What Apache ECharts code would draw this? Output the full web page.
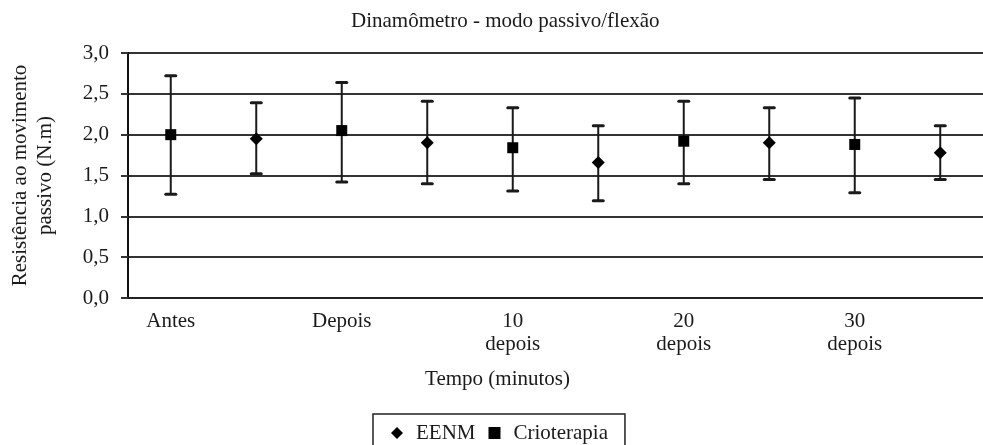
<!DOCTYPE html>
<html>
<head>
<meta charset="utf-8">
<script src="https://cdn.jsdelivr.net/npm/echarts@6/dist/echarts.min.js"></script>
<style>
  html, body { margin: 0; padding: 0; background: #fff; }
  #chart { width: 983px; height: 445px; }
</style>
</head>
<body>
<div id="chart"></div>
<script>
// time points (one Crioterapia slot + one EENM slot each)
const timeLabels = ['Antes', 'Depois', '10\ndepois', '20\ndepois', '30\ndepois'];
const yTicks = [0, 0.5, 1, 1.5, 2, 2.5, 3];

const eenmMean = [1.95, 1.90, 1.66, 1.90, 1.78];
const eenmHigh = [2.39, 2.41, 2.11, 2.33, 2.11];
const eenmLow  = [1.52, 1.40, 1.19, 1.45, 1.45];

const crioMean = [2.00, 2.05, 1.84, 1.92, 1.88];
const crioHigh = [2.72, 2.64, 2.33, 2.41, 2.45];
const crioLow  = [1.27, 1.42, 1.31, 1.40, 1.29];

const FONT = 'Liberation Serif';
const INK = '#1a1a1a';

// 10 slots on the category axis, label only on the Crioterapia slot
const slots = timeLabels.flatMap(t => [t, t + '#EENM']);

const crioPts = crioMean.map((v, i) => [2 * i, v]);
const eenmPts = eenmMean.map((v, i) => [2 * i + 1, v]);
const crioBars = crioLow.map((v, i) => [2 * i, v, crioHigh[i]]);
const eenmBars = eenmLow.map((v, i) => [2 * i + 1, v, eenmHigh[i]]);

function errorBar(params, api) {
    const lo = api.coord([api.value(0), api.value(1)]);
    const hi = api.coord([api.value(0), api.value(2)]);
    const cap = 6.5;
    const style = { stroke: INK, lineWidth: 2 };
    return {
        type: 'group',
        children: [
            { type: 'line', shape: { x1: lo[0], y1: lo[1], x2: hi[0], y2: hi[1] }, style: style },
            { type: 'rect', shape: { x: hi[0] - cap, y: hi[1] - 1.5, width: cap * 2, height: 3, r: 1.5 }, style: { fill: INK } },
            { type: 'rect', shape: { x: lo[0] - cap, y: lo[1] - 1.5, width: cap * 2, height: 3, r: 1.5 }, style: { fill: INK } }
        ]
    };
}

const chart = echarts.init(document.getElementById('chart'), null, { renderer: 'canvas' });

chart.setOption({
    animation: false,
    backgroundColor: '#fff',
    textStyle: { fontFamily: FONT },
    title: {
        text: 'Dinamômetro - modo passivo/flexão',
        left: 351,
        top: 11,
        padding: 0,
        textStyle: { fontFamily: FONT, fontWeight: 'normal', fontSize: 21, color: INK }
    },
    legend: {
        data: [
            { name: 'EENM', icon: 'diamond' },
            { name: 'Crioterapia', icon: 'rect' }
        ],
        left: 373,
        top: 414,
        padding: [7, 17, 7, 18],
        itemWidth: 12,
        itemHeight: 12,
        itemGap: 13,
        borderColor: '#222',
        borderWidth: 1.5,
        borderRadius: 0,
        selectedMode: false,
        textStyle: { fontFamily: FONT, fontSize: 21, color: INK, lineHeight: 24, padding: [0, 0, 0, 8] }
    },
    grid: {
        left: 125,
        right: -9,
        top: 53,
        bottom: 147,
        containLabel: false
    },
    xAxis: {
        type: 'category',
        data: slots,
        boundaryGap: true,
        name: 'Tempo (minutos)',
        nameLocation: 'middle',
        nameGap: 71,
        nameTextStyle: { fontFamily: FONT, fontSize: 21, color: INK, padding: [0, 116, 0, 0] },
        axisLine: { lineStyle: { color: '#222', width: 2 } },
        axisTick: { show: false },
        axisLabel: {
            interval: 0,
            margin: 12,
            fontFamily: FONT,
            fontSize: 21,
            lineHeight: 23,
            color: INK,
            formatter: v => (v.indexOf('#') >= 0 ? '' : v)
        },
        splitLine: { show: false }
    },
    yAxis: {
        type: 'value',
        min: yTicks[0],
        max: yTicks[yTicks.length - 1],
        interval: 0.5,
        name: 'Resistência ao movimento\npassivo (N.m)',
        nameLocation: 'middle',
        nameRotate: 90,
        nameGap: 70,
        nameTextStyle: { fontFamily: FONT, fontSize: 21, color: INK, lineHeight: 25 },
        axisLine: { show: true, lineStyle: { color: '#111', width: 2 } },
        axisTick: { show: true, inside: false, length: 7, lineStyle: { color: '#333', width: 2 } },
        axisLabel: {
            margin: 19,
            fontFamily: FONT,
            fontSize: 21,
            color: INK,
            formatter: v => v.toFixed(1).replace('.', ',')
        },
        splitLine: { show: true, lineStyle: { color: '#333', width: 2 } }
    },
    series: [
        {
            name: 'crio-err',
            type: 'custom',
            data: crioBars,
            encode: { x: 0, y: [1, 2] },
            renderItem: errorBar,
            z: 3
        },
        {
            name: 'eenm-err',
            type: 'custom',
            data: eenmBars,
            encode: { x: 0, y: [1, 2] },
            renderItem: errorBar,
            z: 3
        },
        {
            name: 'EENM',
            type: 'scatter',
            symbol: 'diamond',
            symbolSize: 13,
            data: eenmPts,
            itemStyle: { color: '#000', opacity: 1 },
            z: 5
        },
        {
            name: 'Crioterapia',
            type: 'scatter',
            symbol: 'rect',
            symbolSize: 11,
            data: crioPts,
            itemStyle: { color: '#000', opacity: 1 },
            z: 5
        }
    ]
});
</script>
</body>
</html>
